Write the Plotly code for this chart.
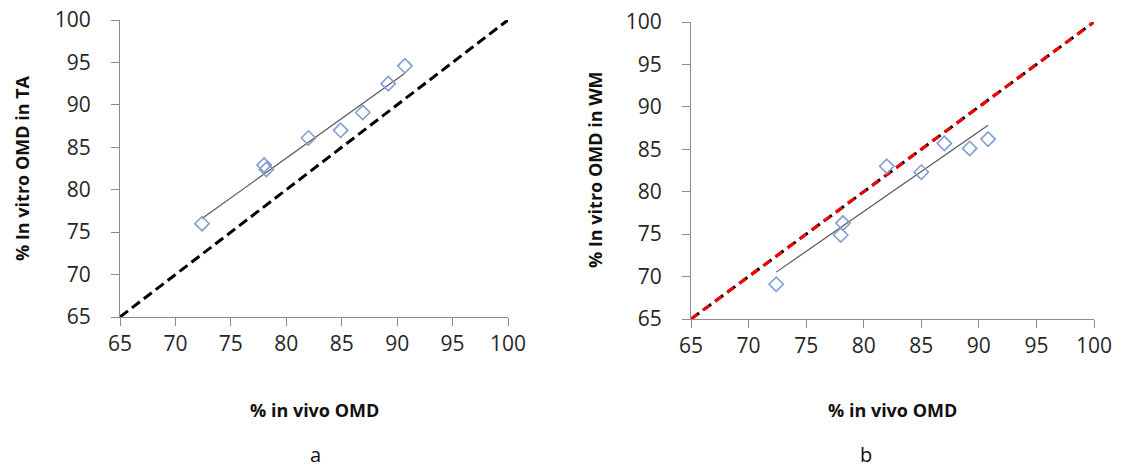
import numpy as np
import plotly.graph_objects as go

# Data
invivo = [72.4, 78.0, 78.2, 82.0, 84.9, 86.9, 89.2, 90.7]
invitro_ta = [76.0, 82.9, 82.4, 86.1, 87.0, 89.1, 92.5, 94.6]
invivo_b = [72.4, 78.0, 78.2, 82.0, 85.0, 87.0, 89.2, 90.8]
invitro_wm = [69.1, 74.9, 76.3, 83.0, 82.3, 85.7, 85.1, 86.2]
identity = [65, 100]
tick_vals = [65, 70, 75, 80, 85, 90, 95, 100]

FONT = "Open Sans"
MARK = "#7f9fd2"
W, H = 1122, 470

def px(x):
    return x / W

def py(y):
    return 1 - y / H

fig = go.Figure()

def add_panel(xs, ys, xa, ya, red):
    xref = "x" if xa == 1 else f"x{xa}"
    yref = "y" if ya == 1 else f"y{ya}"
    fig.add_trace(go.Scatter(x=identity, y=identity, mode="lines",
                             line=dict(color="black", width=3, dash="10px,5px"),
                             xaxis=xref, yaxis=yref, showlegend=False, hoverinfo="skip"))
    if red:
        fig.add_trace(go.Scatter(x=identity, y=identity, mode="lines",
                                 line=dict(color="#ff0000", width=3, dash="8px,7px"),
                                 xaxis=xref, yaxis=yref, showlegend=False, hoverinfo="skip"))
    k, b = np.polyfit(xs, ys, 1)
    tx = [min(xs), max(xs)]
    fig.add_trace(go.Scatter(x=tx, y=[k * v + b for v in tx], mode="lines",
                             line=dict(color="#555555", width=1.2),
                             xaxis=xref, yaxis=yref, showlegend=False, hoverinfo="skip"))
    fig.add_trace(go.Scatter(x=xs, y=ys, mode="markers",
                             marker=dict(symbol="diamond-open", size=11,
                                         color=MARK, line=dict(width=1.6, color=MARK)),
                             xaxis=xref, yaxis=yref, showlegend=False))

add_panel(invivo, invitro_ta, 1, 1, False)
add_panel(invivo_b, invitro_wm, 2, 2, True)

axis_common = dict(range=[65, 100], tickvals=tick_vals, showgrid=False, zeroline=False,
                   showline=True, linecolor="#8c8c8c", linewidth=1.2, automargin=False,
                   ticks="outside", ticklen=8, tickcolor="#8c8c8c", tickwidth=1.2,
                   tickfont=dict(family=FONT, size=21, color="#262626"))
title_font = dict(family=FONT, size=18, color="#111111", weight="bold")

def ann(text, x, y, font, angle=0):
    return dict(text=text, x=px(x), y=py(y), xref="paper", yref="paper",
                showarrow=False, font=font, textangle=angle,
                xanchor="center", yanchor="middle")

fig.update_layout(
    width=W, height=H,
    margin=dict(l=0, r=0, t=0, b=0, autoexpand=False),
    paper_bgcolor="white", plot_bgcolor="white",
    xaxis=dict(domain=[px(120), px(508)], anchor="y", **axis_common),
    yaxis=dict(domain=[py(317), py(20)], anchor="x",
               ticklabelstandoff=16, **axis_common),
    xaxis2=dict(domain=[px(691), px(1094)], anchor="y2", **axis_common),
    yaxis2=dict(domain=[py(319), py(22)], anchor="x2",
                ticklabelstandoff=16, **axis_common),
    annotations=[
        ann("% in vivo OMD", 314, 410, title_font),
        ann("% in vivo OMD", 892, 410, title_font),
        ann("% In vitro OMD in TA", 22, 168, title_font, -90),
        ann("% In vitro OMD in WM", 595, 170, title_font, -90),
        ann("a", 315, 454, dict(family=FONT, size=20, color="#111111")),
        ann("b", 866, 454, dict(family=FONT, size=20, color="#111111")),
    ],
)

fig.write_html("out.html", config={"displayModeBar": False},
               post_script="document.body.style.margin='0';document.body.style.overflow='hidden';")
